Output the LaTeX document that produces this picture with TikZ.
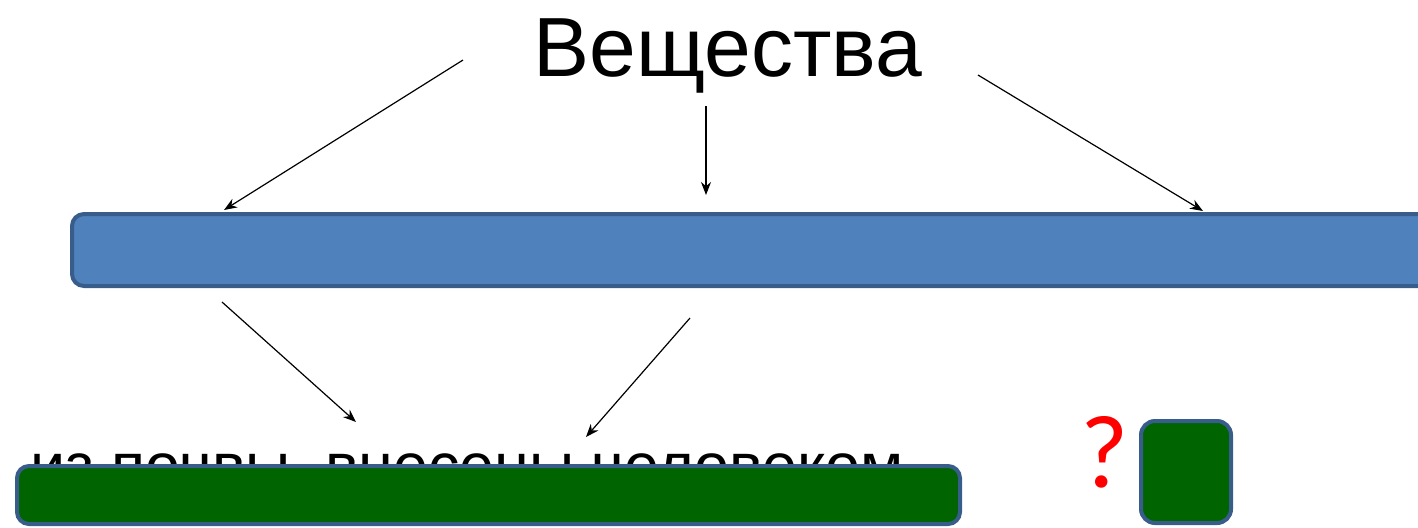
\documentclass[tikz,border=0pt]{standalone}
\usepackage{fontspec}
\setmainfont{Liberation Sans}
\newfontfamily\qfont{Carlito}
\usetikzlibrary{arrows.meta}
\definecolor{barblue}{RGB}{79,129,189}
\definecolor{edgeblue}{RGB}{56,93,138}
\definecolor{bargreen}{RGB}{0,100,0}
\begin{document}
\begin{tikzpicture}[x=0.5pt,y=-0.5pt,
  bar/.style={draw=edgeblue, line width=2pt, rounded corners=6pt, rectangle, inner sep=0pt},
  conn/.style={-{Stealth[length=6.5pt,width=5pt]}, line width=0.6pt}]
\useasboundingbox (0,0) rectangle (1418,527);
\clip (0,0) rectangle (1418,527);
\node[anchor=base, inner sep=0pt, font=\fontsize{42}{50}\selectfont] (title) at (728,76) {Вещества};
\node[bar, fill=barblue, minimum width=689pt, minimum height=36pt] (blue) at (761,250) {};
\node[anchor=base west, inner sep=0pt, font=\fontsize{31.4}{37}\selectfont] (src) at (30,487) {из почвы, внесены человеком};
\node[bar, fill=bargreen, minimum width=471.5pt, minimum height=29pt] (green) at (488.5,495) {};
\node[bar, fill=bargreen, rounded corners=7pt, minimum width=45pt, minimum height=51pt] (box) at (1186,472) {};
\node[anchor=base, inner sep=0pt, text=red, font=\qfont\fontsize{52}{58}\selectfont] (q) at (1105,487) {?};
\coordinate (a1s) at (463,60);  \coordinate (a1e) at (224,210);
\coordinate (a2s) at (706,106); \coordinate (a2e) at (706,195);
\coordinate (a3s) at (978,75);  \coordinate (a3e) at (1203,211);
\coordinate (a4s) at (222,302); \coordinate (a4e) at (356,422);
\coordinate (a5s) at (690,318); \coordinate (a5e) at (586,437);
\draw[conn] (a1s) -- (a1e);
\draw[conn] (a2s) -- (a2e);
\draw[conn] (a3s) -- (a3e);
\draw[conn] (a4s) -- (a4e);
\draw[conn] (a5s) -- (a5e);
\end{tikzpicture}
\end{document}
